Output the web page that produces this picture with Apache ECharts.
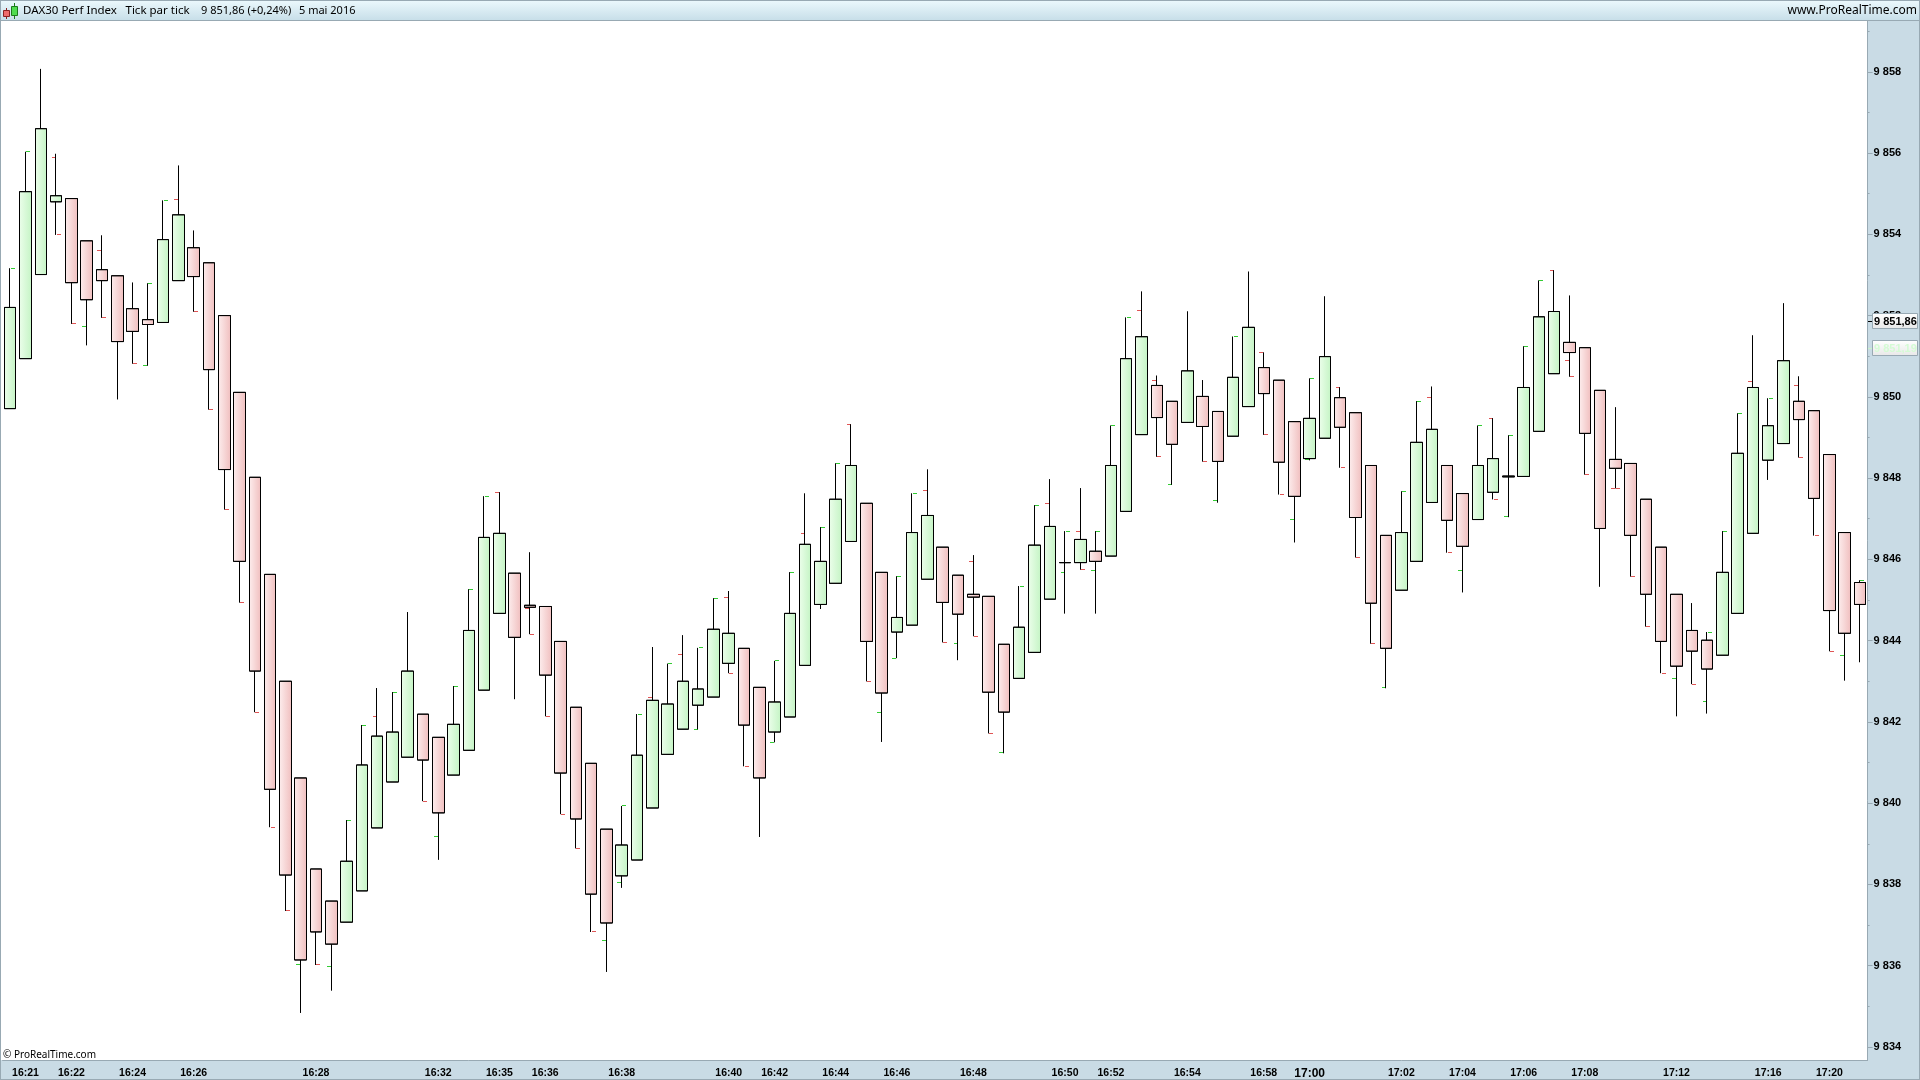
<!DOCTYPE html>
<html>
<head>
<meta charset="utf-8">
<title>DAX30 Perf Index</title>
<script src="https://cdn.jsdelivr.net/npm/echarts@6/dist/echarts.min.js"></script>
<style>
  html, body { margin: 0; padding: 0; background: #fff; }
  #chart { width: 1920px; height: 1080px; }
</style>
</head>
<body>
<div id="chart"></div>
<script>
const opens = [
  9849.71, 9850.94, 9853.01, 9854.80, 9854.88, 9853.84, 9853.13, 9852.98, 9852.17, 9851.90,
  9851.83, 9852.86, 9853.67, 9853.30, 9852.00, 9850.11, 9848.02, 9845.63, 9843.00, 9840.62,
  9838.38, 9837.59, 9837.07, 9837.84, 9839.39, 9840.52, 9841.13, 9842.19, 9841.62, 9840.69,
  9841.30, 9842.78, 9844.67, 9845.66, 9844.87, 9844.84, 9843.98, 9842.36, 9840.98, 9839.36,
  9838.21, 9838.60, 9839.88, 9841.20, 9841.82, 9842.41, 9842.61, 9843.44, 9843.81, 9842.85,
  9841.75, 9842.12, 9843.39, 9844.89, 9845.41, 9846.44, 9847.38, 9845.68, 9844.21, 9844.38,
  9845.51, 9846.30, 9845.61, 9845.14, 9845.09, 9843.91, 9843.07, 9843.71, 9845.02, 9845.92,
  9845.92, 9846.20, 9846.08, 9847.18, 9849.07, 9850.28, 9849.89, 9849.37, 9850.01, 9849.64,
  9849.03, 9849.76, 9850.72, 9850.41, 9849.39, 9848.48, 9848.98, 9849.98, 9849.61, 9848.31,
  9846.59, 9845.24, 9845.95, 9847.40, 9848.31, 9847.62, 9846.98, 9847.65, 9848.03, 9848.04,
  9849.15, 9850.57, 9851.34, 9851.21, 9850.16, 9848.46, 9848.36, 9847.48, 9846.30, 9845.14,
  9844.25, 9844.01, 9843.64, 9844.67, 9846.64, 9848.44, 9848.85, 9849.89, 9849.66, 9848.58,
  9846.66, 9845.43
]
const closes = [
  9852.20, 9855.05, 9856.60, 9854.95, 9852.81, 9852.39, 9852.86, 9851.36, 9851.61, 9851.78,
  9853.87, 9854.48, 9852.96, 9850.67, 9848.21, 9845.95, 9843.25, 9840.34, 9838.23, 9836.14,
  9836.83, 9836.53, 9838.57, 9840.94, 9841.65, 9841.75, 9843.25, 9841.06, 9839.76, 9841.94,
  9844.25, 9846.54, 9846.64, 9844.08, 9844.82, 9843.15, 9840.74, 9839.61, 9837.76, 9837.05,
  9838.97, 9841.18, 9842.53, 9842.44, 9843.00, 9842.81, 9844.28, 9844.18, 9841.92, 9840.62,
  9842.49, 9844.67, 9846.37, 9845.95, 9847.48, 9848.31, 9843.98, 9842.71, 9844.57, 9846.66,
  9847.08, 9844.94, 9844.65, 9845.07, 9842.73, 9842.24, 9844.33, 9846.35, 9846.81, 9845.92,
  9846.49, 9845.95, 9848.31, 9850.94, 9851.48, 9849.49, 9848.83, 9850.64, 9849.27, 9848.41,
  9850.48, 9851.71, 9850.08, 9848.39, 9847.55, 9849.47, 9850.99, 9849.25, 9847.03, 9844.92,
  9843.81, 9846.66, 9848.88, 9849.20, 9846.96, 9846.32, 9848.31, 9848.48, 9848.05, 9850.23,
  9851.97, 9852.10, 9851.09, 9849.10, 9846.76, 9848.24, 9846.59, 9845.14, 9843.98, 9843.37,
  9843.74, 9843.30, 9845.68, 9848.61, 9850.23, 9849.29, 9850.89, 9849.44, 9847.50, 9844.74,
  9844.18, 9844.89
]
const lows = [
  9849.71, 9850.94, 9853.01, 9853.99, 9851.80, 9851.27, 9851.95, 9849.94, 9850.82, 9850.77,
  9851.83, 9852.86, 9852.10, 9849.69, 9847.23, 9844.94, 9842.24, 9839.41, 9837.35, 9834.84,
  9836.02, 9835.39, 9837.07, 9837.84, 9839.39, 9840.52, 9841.13, 9840.05, 9838.61, 9840.69,
  9841.30, 9842.78, 9844.67, 9842.56, 9844.16, 9842.14, 9839.73, 9838.89, 9836.83, 9835.85,
  9837.92, 9838.60, 9839.88, 9841.20, 9841.82, 9841.82, 9842.61, 9843.20, 9840.91, 9839.17,
  9841.50, 9842.12, 9843.39, 9844.78, 9845.41, 9846.44, 9843.00, 9841.51, 9843.57, 9844.38,
  9845.51, 9843.96, 9843.52, 9844.11, 9841.72, 9841.23, 9843.07, 9843.71, 9845.02, 9844.67,
  9845.75, 9844.67, 9846.08, 9847.18, 9849.07, 9848.53, 9847.84, 9849.37, 9848.41, 9847.40,
  9849.03, 9849.76, 9849.07, 9847.60, 9846.42, 9848.44, 9848.98, 9848.26, 9846.05, 9843.93,
  9842.83, 9845.24, 9845.95, 9847.40, 9846.17, 9845.19, 9846.98, 9847.48, 9847.04, 9848.04,
  9849.15, 9850.57, 9850.50, 9848.09, 9845.33, 9847.75, 9845.58, 9844.35, 9843.20, 9842.14,
  9842.93, 9842.21, 9843.64, 9844.67, 9846.64, 9847.96, 9848.85, 9848.51, 9846.59, 9843.74,
  9843.02, 9843.47
]
const highs = [
  9853.16, 9856.03, 9858.07, 9855.98, 9854.88, 9853.84, 9853.97, 9852.98, 9852.81, 9852.79,
  9854.83, 9855.69, 9854.09, 9853.30, 9852.00, 9850.11, 9848.02, 9845.63, 9843.00, 9840.62,
  9838.38, 9837.59, 9839.58, 9841.92, 9842.83, 9842.73, 9844.70, 9842.19, 9841.62, 9842.88,
  9845.26, 9847.55, 9847.65, 9845.66, 9846.17, 9844.84, 9843.98, 9842.36, 9840.98, 9839.36,
  9839.93, 9842.19, 9843.84, 9843.43, 9844.13, 9843.82, 9845.04, 9845.22, 9843.81, 9842.85,
  9843.50, 9845.68, 9847.62, 9846.79, 9848.36, 9849.32, 9847.38, 9845.68, 9845.58, 9847.62,
  9848.21, 9846.30, 9845.61, 9846.10, 9845.09, 9843.91, 9845.34, 9847.33, 9847.97, 9846.69,
  9847.75, 9846.69, 9849.29, 9851.95, 9852.59, 9850.52, 9849.89, 9852.10, 9850.41, 9849.64,
  9851.48, 9853.08, 9851.09, 9850.41, 9849.39, 9850.45, 9852.47, 9850.23, 9849.61, 9848.31,
  9846.59, 9847.67, 9849.89, 9850.25, 9848.31, 9847.62, 9849.29, 9849.47, 9849.05, 9851.24,
  9852.86, 9853.11, 9852.49, 9851.21, 9850.16, 9849.74, 9848.36, 9847.48, 9846.30, 9845.14,
  9844.92, 9844.21, 9846.69, 9849.59, 9851.51, 9849.96, 9852.30, 9850.50, 9849.66, 9848.58,
  9846.66, 9845.48
]

// small dashes next to the wicks: [candle index, price]
const greenRight = [
  [0, 9853.16], [1, 9856.03], [9, 9852.79], [10, 9854.83], [22, 9839.58], [23, 9841.92], [25, 9842.73], [29, 9842.88],
  [30, 9845.26], [31, 9847.55], [40, 9839.93], [41, 9842.19], [43, 9843.43], [45, 9843.82], [46, 9845.04], [50, 9843.50],
  [51, 9845.68], [53, 9846.79], [54, 9848.36], [58, 9845.58], [59, 9847.62], [66, 9845.34], [67, 9847.33], [69, 9846.69],
  [71, 9846.69], [72, 9849.29], [73, 9851.95], [80, 9851.48], [85, 9850.45], [91, 9847.67], [92, 9849.89], [96, 9849.29],
  [98, 9849.05], [99, 9851.24], [100, 9852.86], [111, 9844.21], [112, 9846.69], [113, 9849.59], [115, 9849.96], [121, 9845.48]
]
const greenLeft = [
  [5, 9851.73], [9, 9850.77], [19, 9836.02], [21, 9835.97], [28, 9839.17], [39, 9836.63], [40, 9838.04], [45, 9841.82],
  [50, 9841.50], [57, 9842.24], [58, 9843.57], [62, 9843.93], [65, 9841.25], [69, 9845.68], [71, 9845.73], [76, 9847.84],
  [79, 9847.45], [84, 9846.98], [85, 9848.46], [90, 9842.85], [95, 9845.73], [98, 9847.06], [109, 9843.07], [111, 9842.50],
  [120, 9843.64]
]
const redLeft = [
  [3, 9855.88], [6, 9853.60], [11, 9854.85], [24, 9842.14], [32, 9847.65], [34, 9844.80], [42, 9842.61], [44, 9843.67],
  [47, 9845.07], [52, 9846.64], [55, 9849.32], [60, 9847.70], [63, 9845.95], [68, 9847.38], [70, 9846.69], [74, 9852.12],
  [75, 9850.41], [82, 9851.09], [87, 9850.23], [93, 9849.98], [97, 9849.47], [101, 9853.11], [102, 9850.89], [105, 9847.75],
  [114, 9850.38], [117, 9850.28]
]
const redRight = [
  [3, 9853.99], [4, 9851.80], [6, 9851.95], [8, 9850.82], [12, 9852.10], [13, 9849.69], [14, 9847.23], [15, 9844.94],
  [16, 9842.24], [17, 9839.41], [18, 9837.35], [20, 9836.02], [27, 9840.05], [34, 9844.16], [35, 9842.14], [36, 9839.73],
  [37, 9838.89], [38, 9836.83], [47, 9843.20], [48, 9840.91], [56, 9843.00], [61, 9843.96], [63, 9844.11], [64, 9841.72],
  [70, 9845.75], [75, 9848.53], [78, 9848.41], [82, 9849.07], [83, 9847.60], [87, 9848.26], [88, 9846.05], [89, 9843.93],
  [94, 9846.17], [97, 9847.48], [102, 9850.50], [103, 9848.09], [105, 9847.75], [106, 9845.58], [107, 9844.35], [108, 9843.20],
  [110, 9842.93], [117, 9848.51], [118, 9846.59], [119, 9843.74]
]

const timeIdx = [1, 4, 8, 12, 20, 28, 32, 35, 40, 47, 50, 54, 58, 63, 69, 72, 77, 82, 85, 91, 95, 99, 103, 109, 115, 119]
const timeLabels = ['16:21', '16:22', '16:24', '16:26', '16:28', '16:32', '16:35', '16:36', '16:38', '16:40', '16:42', '16:44', '16:46',
  '16:48', '16:50', '16:52', '16:54', '16:58', '17:00', '17:02', '17:04', '17:06', '17:08', '17:12', '17:16', '17:20']
const priceTicks = [9834, 9836, 9838, 9840, 9842, 9844, 9846, 9848, 9850, 9852, 9854, 9856, 9858]
const minorTicks = [9835, 9837, 9839, 9841, 9843, 9845, 9847, 9849, 9851, 9853, 9855, 9857, 9859]
const lastPrice = 9851.86
const otherPrice = 9851.19

const gray = '#98a9b3'
const panel = '#c9dbe5'
const font = '"Liberation Sans", Arial, sans-serif'
const uiFont = '"Noto Sans", sans-serif'

const hgrad = (a, b) => new echarts.graphic.LinearGradient(0, 0, 1, 0, [
  { offset: 0, color: a },
  { offset: 1, color: b }
])

const categories = opens.map((_, i) => i)
const candles = opens.map((o, i) => [o, closes[i], lows[i], highs[i]])

// custom series so the dashes land on whole pixels next to the wick
const marks = (list, color, side) => ({
  type: 'custom',
  data: list,
  silent: true,
  z: 3,
  encode: { x: 0, y: 1 },
  renderItem: (params, api) => {
    const p = api.coord([api.value(0), api.value(1)])
    const wick = Math.floor(p[0])
    return {
      type: 'rect',
      shape: { x: side > 0 ? wick + 1 : wick - 4, y: Math.floor(p[1]), width: 4, height: 1 },
      style: { fill: color }
    }
  }
})

const chart = echarts.init(document.getElementById('chart'), null, { renderer: 'canvas' })

chart.setOption({
  animation: false,
  backgroundColor: '#fff',
  grid: { left: 2.6, right: 52.4, top: 21, bottom: 19.67 },
  xAxis: {
    type: 'category',
    data: categories,
    boundaryGap: true,
    axisLine: { lineStyle: { color: gray, width: 1 } },
    axisTick: {
      alignWithLabel: true,
      length: 4,
      lineStyle: { color: gray },
      interval: i => timeIdx.includes(i)
    },
    axisLabel: {
      interval: i => timeIdx.includes(i),
      margin: 7,
      formatter: (v, i) => {
        const s = timeLabels[timeIdx.indexOf(i)] || ''
        return s === '17:00' ? '{big|' + s + '}' : s
      },
      color: '#000',
      fontFamily: font,
      fontWeight: 'bold',
      fontSize: 10.5,
      rich: { big: { fontFamily: font, fontWeight: 'bold', fontSize: 12, color: '#000' } }
    },
    splitLine: { show: false }
  },
  yAxis: [
    {
      type: 'value',
      position: 'right',
      min: 9833.67,
      max: 9859.25,
      axisLine: { show: true, lineStyle: { color: gray, width: 1 } },
      axisTick: { show: true, length: 5, lineStyle: { color: gray }, customValues: priceTicks },
      axisLabel: {
        customValues: priceTicks,
        margin: 6,
        padding: [2, 0, 0, 0],
        color: '#000',
        fontFamily: font,
        fontWeight: 'bold',
        fontSize: 11,
        formatter: v => String(v).replace(/^(\d)/, '$1 ')
      },
      splitLine: { show: false }
    },
    {
      // odd prices only get a short tick
      type: 'value',
      position: 'right',
      min: 9833.67,
      max: 9859.25,
      axisLine: { show: false },
      axisTick: { show: true, length: 2, lineStyle: { color: gray }, customValues: minorTicks },
      axisLabel: { show: false },
      splitLine: { show: false }
    }
  ],
  series: [
    {
      type: 'candlestick',
      data: candles,
      barWidth: 12,
      silent: true,
      z: 4,
      itemStyle: {
        color: hgrad('#ecfeeb', '#c4f4c4'),
        color0: hgrad('#fdeeee', '#f0bebe'),
        borderColor: '#000',
        borderColor0: '#000',
        borderColorDoji: '#000',
        borderWidth: 1
      }
    },
    marks(greenRight, '#33cc33', 1),
    marks(greenLeft, '#33cc33', -1),
    marks(redLeft, '#e05555', -1),
    marks(redRight, '#e05555', 1)
  ]
})

const priceTag = (value, text, color, tickColor) => {
  const y = Math.round(chart.convertToPixel({ yAxisIndex: 0 }, value))
  return [
    { type: 'rect', z: 50, shape: { x: 1868, y: y, width: 5, height: 1 }, style: { fill: tickColor } },
    {
      type: 'rect',
      z: 50,
      shape: { x: 1872.5, y: y - 7.5, width: 45, height: 15 },
      style: {
        fill: new echarts.graphic.LinearGradient(0, 0, 0, 1, [
          { offset: 0, color: '#ffffff' },
          { offset: 1, color: '#e8e8e8' }
        ]),
        stroke: gray,
        lineWidth: 1
      }
    },
    {
      type: 'text',
      z: 51,
      style: {
        x: 1874,
        y: y + 0.5,
        text: text,
        fill: color,
        font: 'bold 11px ' + font,
        textAlign: 'left',
        textVerticalAlign: 'middle'
      }
    }
  ]
}

const barText = (x, text, size) => ({
  type: 'text',
  z: 42,
  style: {
    x: x,
    y: 10.5,
    text: text,
    fill: '#000',
    font: size + 'px ' + uiFont,
    textAlign: 'left',
    textVerticalAlign: 'middle'
  }
})

chart.setOption({
  graphic: [
    // axis panels and title bar
    { type: 'rect', z: -1, shape: { x: 1867, y: 20, width: 53, height: 1060 }, style: { fill: panel } },
    { type: 'rect', z: -1, shape: { x: 0, y: 1060, width: 1920, height: 20 }, style: { fill: panel } },
    {
      type: 'rect',
      z: 40,
      shape: { x: 0, y: 0, width: 1920, height: 20 },
      style: {
        fill: new echarts.graphic.LinearGradient(0, 0, 0, 1, [
          { offset: 0, color: '#ecf9fd' },
          { offset: 1, color: '#c8dfe9' }
        ])
      }
    },
    { type: 'rect', z: 41, shape: { x: 0, y: 20, width: 1920, height: 1 }, style: { fill: gray } },
    { type: 'rect', z: 41, shape: { x: 0, y: 0, width: 1920, height: 1 }, style: { fill: gray } },
    { type: 'rect', z: 41, shape: { x: 0, y: 0, width: 1, height: 1080 }, style: { fill: gray } },
    { type: 'rect', z: 41, shape: { x: 1919, y: 0, width: 1, height: 1080 }, style: { fill: gray } },
    { type: 'rect', z: 41, shape: { x: 0, y: 1079, width: 1920, height: 1 }, style: { fill: gray } },
    // the little candle icon
    { type: 'rect', z: 42, shape: { x: 6, y: 8, width: 1, height: 11 }, style: { fill: '#8a2020' } },
    { type: 'rect', z: 42, shape: { x: 3.5, y: 10.5, width: 6, height: 6 }, style: { fill: '#ef6b6b', stroke: '#8a2020', lineWidth: 1 } },
    { type: 'rect', z: 42, shape: { x: 14, y: 3, width: 1, height: 16 }, style: { fill: '#1c7a1c' } },
    { type: 'rect', z: 42, shape: { x: 11.5, y: 6.5, width: 6, height: 9 }, style: { fill: '#4fdc4f', stroke: '#1c7a1c', lineWidth: 1 } },
    barText(23, 'DAX30 Perf Index', 11.5),
    barText(125.5, 'Tick par tick', 11.5),
    barText(201, '9 851,86 (+0,24%)', 11),
    barText(299, '5 mai 2016', 11),
    {
      type: 'text',
      z: 42,
      style: {
        x: 1917,
        y: 10.5,
        text: 'www.ProRealTime.com',
        fill: '#000',
        font: '12px ' + uiFont,
        textAlign: 'right',
        textVerticalAlign: 'middle'
      }
    },
    {
      type: 'text',
      z: 42,
      style: {
        x: 3,
        y: 1055,
        text: '© ProRealTime.com',
        fill: '#000',
        font: '10px ' + uiFont,
        textAlign: 'left',
        textVerticalAlign: 'middle'
      }
    },
    ...priceTag(lastPrice, '9 851,86', '#000', '#000'),
    ...priceTag(otherPrice, '9 851,19', '#d4fbd4', '#c8f5c8')
  ]
})
</script>
</body>
</html>
